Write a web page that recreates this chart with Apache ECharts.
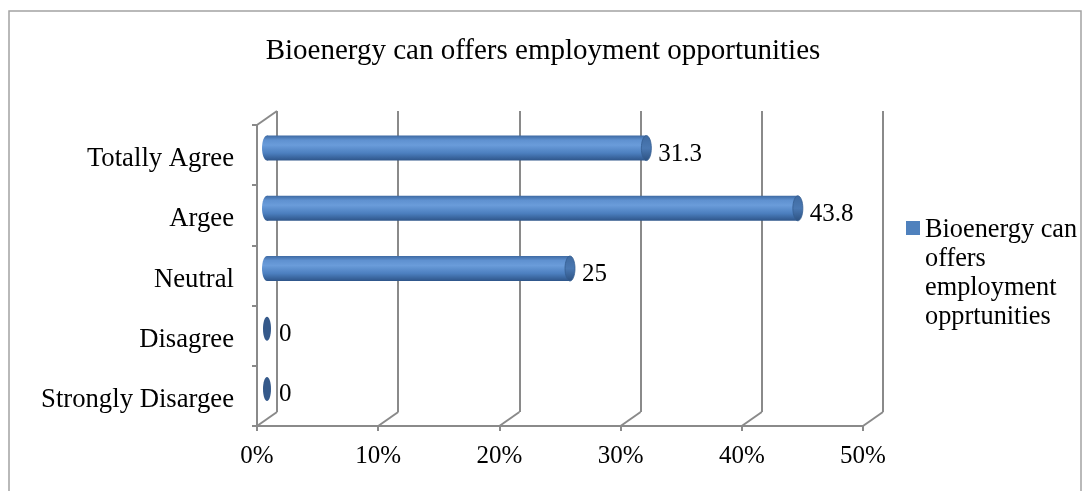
<!DOCTYPE html>
<html>
<head>
<meta charset="utf-8">
<script src="https://cdn.jsdelivr.net/npm/echarts@6/dist/echarts.min.js"></script>
<style>
  html, body { margin: 0; padding: 0; background: #ffffff; }
  #chart { width: 1086px; height: 491px; }
</style>
</head>
<body>
<div id="chart"></div>
<script>
// ---- data ----
const titleText = 'Bioenergy can offers employment opportunities';
const categories = ['Totally Agree', 'Argee', 'Neutral', 'Disagree', 'Strongly Disargee'];
const values = [31.3, 43.8, 25, 0, 0];
const seriesName = 'Bioenergy can offers employment opprtunities';
const legendLines = ['Bioenergy can', 'offers', 'employment', 'opprtunities'];
const tickValues = [0, 10, 20, 30, 40, 50];

// ---- look ----
const FONT = 'Liberation Serif';
const WALL = '#8a8a8a';
const WALL_W = 2;
const DEPTH = [20, -14];               // offset from the front plane to the back wall
const HALF = [DEPTH[0] / 2, DEPTH[1] / 2];
const LEGEND_LINE_H = 29;
const LEGEND_H = LEGEND_LINE_H * legendLines.length;

// legend marker: a square beside the first text line, inside a box as tall as the text block
const legendIcon = 'path://M0,0L0,0M0,5L14,5L14,19L0,19ZM0,' + LEGEND_H + 'L0,' + LEGEND_H;

const bodyGrad = {
  type: 'linear', x: 0, y: 0, x2: 0, y2: 1,
  colorStops: [
    { offset: 0, color: '#3e6aa3' },
    { offset: 0.18, color: '#5f91d0' },
    { offset: 0.38, color: '#6a9cda' },
    { offset: 0.7, color: '#4c7fbf' },
    { offset: 1, color: '#2e5589' }
  ]
};
const capGrad = {
  type: 'linear', x: 0, y: 0, x2: 0, y2: 1,
  colorStops: [
    { offset: 0, color: '#3f6aa0' },
    { offset: 0.5, color: '#4a78b2' },
    { offset: 1, color: '#2c5181' }
  ]
};

const chart = echarts.init(document.getElementById('chart'), null, { renderer: 'canvas' });

chart.setOption({
  animation: false,
  backgroundColor: '#ffffff',
  title: {
    text: titleText,
    left: 'center',
    top: 32,
    textStyle: { fontFamily: FONT, fontSize: 29, fontWeight: 'normal', color: '#000' }
  },
  graphic: [{
    type: 'rect',
    shape: { x: 9, y: 11, width: 1072, height: 520 },
    style: { fill: 'transparent', stroke: '#a3a3a3', lineWidth: 1.5 },
    silent: true
  }],
  legend: {
    data: [seriesName],
    left: 906,
    top: 216,
    padding: 0,
    icon: legendIcon,
    itemWidth: 14,
    itemHeight: LEGEND_H,
    itemStyle: { borderWidth: 0 },
    selectedMode: false,
    formatter: () => legendLines.join('\n'),
    textStyle: { fontFamily: FONT, fontSize: 26.3, color: '#000', lineHeight: LEGEND_LINE_H }
  },
  grid: [
    { left: 257, right: 223, top: 125, bottom: 65 },                 // front plane
    { left: 257 + DEPTH[0], right: 223 - DEPTH[0], top: 125 + DEPTH[1], bottom: 65 - DEPTH[1] } // back wall
  ],
  xAxis: [
    {
      gridIndex: 0, type: 'value', min: 0, max: 50, interval: 10,
      axisLine: { show: true, lineStyle: { color: WALL, width: WALL_W } },
      axisTick: { show: true, length: 5, lineStyle: { color: WALL, width: WALL_W } },
      axisLabel: { formatter: '{value}%', fontFamily: FONT, fontSize: 25, color: '#000', margin: 18 },
      splitLine: { show: false }
    },
    {
      gridIndex: 1, type: 'value', min: 0, max: 50, interval: 10,
      axisLine: { show: false }, axisTick: { show: false }, axisLabel: { show: false },
      splitLine: { show: true, lineStyle: { color: WALL, width: WALL_W } }
    }
  ],
  yAxis: [
    {
      gridIndex: 0, type: 'category', data: categories, inverse: true,
      axisLine: { show: true, lineStyle: { color: WALL, width: WALL_W } },
      axisTick: { show: true, length: 5, lineStyle: { color: WALL, width: WALL_W } },
      axisLabel: {
        fontFamily: FONT, fontSize: 26.7, color: '#000', margin: 23,
        formatter: v => '{c|' + v + '}',
        rich: { c: { fontFamily: FONT, fontSize: 26.7, color: '#000', padding: [8, 0, 0, 0] } }
      },
      splitLine: { show: false }
    },
    {
      gridIndex: 1, type: 'category', data: categories, inverse: true, show: false
    }
  ],
  series: [
    {
      // floor and wall edges joining the front plane to the back wall
      type: 'custom',
      xAxisIndex: 0, yAxisIndex: 0,
      silent: true,
      z: 1,
      data: tickValues.map(v => [v, 0]),
      encode: { x: 0, y: 1 },
      renderItem(params, api) {
        const cs = params.coordSys;
        const x = api.coord([api.value(0), 0])[0];
        const bottom = cs.y + cs.height;
        const lineStyle = { stroke: WALL, lineWidth: WALL_W };
        const children = [{
          type: 'line',
          shape: { x1: x, y1: bottom, x2: x + DEPTH[0], y2: bottom + DEPTH[1] },
          style: lineStyle
        }];
        if (params.dataIndex === 0) {
          children.push({
            type: 'line',
            shape: { x1: x, y1: cs.y, x2: x + DEPTH[0], y2: cs.y + DEPTH[1] },
            style: lineStyle
          });
        }
        return { type: 'group', children };
      }
    },
    {
      // cylinder bars, placed halfway into the depth
      name: seriesName,
      type: 'custom',
      xAxisIndex: 0, yAxisIndex: 0,
      z: 5,
      itemStyle: { color: '#4f81bd' },
      data: values.map((v, i) => [v, i]),
      encode: { x: 0, y: 1 },
      renderItem(params, api) {
        const v = api.value(0);
        const i = api.value(1);
        const s = api.coord([0, i]);
        const e = api.coord([v, i]);
        const cy = s[1] + HALF[1];
        const x0 = s[0] + HALF[0];
        const x1 = e[0] + HALF[0];
        const h = 25;
        const children = [];
        if (x1 - x0 > 0.5) {
          children.push({ type: 'ellipse', shape: { cx: x0, cy: cy, rx: 5, ry: h / 2 }, style: { fill: bodyGrad } });
          children.push({ type: 'rect', shape: { x: x0, y: cy - h / 2, width: x1 - x0, height: h }, style: { fill: bodyGrad } });
          children.push({ type: 'ellipse', shape: { cx: x1, cy: cy, rx: 5, ry: h / 2 }, style: { fill: capGrad, stroke: '#335d91', lineWidth: 0.8 } });
        } else {
          children.push({ type: 'ellipse', shape: { cx: x1, cy: cy, rx: 4, ry: 12 }, style: { fill: '#35598a' } });
        }
        children.push({
          type: 'text',
          style: {
            x: x1 + 12, y: cy + 6, text: String(v),
            align: 'left', verticalAlign: 'middle',
            fontFamily: FONT, fontSize: 25, fill: '#000'
          }
        });
        return { type: 'group', children };
      }
    }
  ]
});
</script>
</body>
</html>
